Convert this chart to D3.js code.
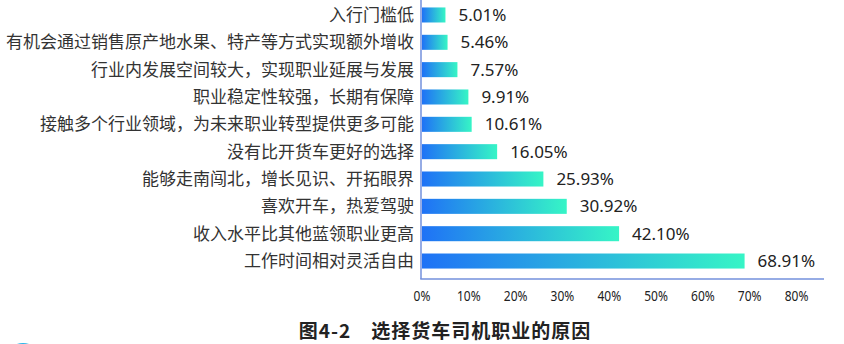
<!DOCTYPE html>
<html>
<head>
<meta charset="utf-8">
<script src="https://cdn.jsdelivr.net/npm/d3@7/dist/d3.min.js"></script>
<style>
  body { margin: 0; background: #fff; }
  #chart { width: 844px; height: 344px; }
</style>
</head>
<body>
<div id="chart"></div>
<script>
var reasons = [
  "入行门槛低",
  "有机会通过销售原产地水果、特产等方式实现额外增收",
  "行业内发展空间较大，实现职业延展与发展",
  "职业稳定性较强，长期有保障",
  "接触多个行业领域，为未来职业转型提供更多可能",
  "没有比开货车更好的选择",
  "能够走南闯北，增长见识、开拓眼界",
  "喜欢开车，热爱驾驶",
  "收入水平比其他蓝领职业更高",
  "工作时间相对灵活自由"
]
var shares = [5.01, 5.46, 7.57, 9.91, 10.61, 16.05, 25.93, 30.92, 42.10, 68.91]
var tickValues = [0, 10, 20, 30, 40, 50, 60, 70, 80]
var title = "图4-2　选择货车司机职业的原因"

var width = 844, height = 344
var plotLeft = 422, plotRight = 796.5, axisEnd = 824
var plotTop = 1.3, plotBottom = 274.7, axisY = 279

var svg = d3.select("#chart").append("svg")
    .attr("width", width)
    .attr("height", height)

var defs = svg.append("defs")
var grad = defs.append("linearGradient")
    .attr("id", "barGrad")
    .attr("x1", "0%").attr("x2", "100%")
    .attr("y1", "0%").attr("y2", "0%")
grad.append("stop").attr("offset", "0%").attr("stop-color", "#1f72f6")
grad.append("stop").attr("offset", "100%").attr("stop-color", "#36f5c6")

var x = d3.scaleLinear().domain([0, 80]).range([plotLeft, plotRight])
var y = d3.scaleBand()
    .domain(reasons)
    .range([plotTop, plotBottom])
    .paddingInner(0.45)
    .paddingOuter(0.225)

var rows = reasons.map(function(r, i) { return {name: r, value: shares[i]} })

// bars
svg.selectAll(".bar")
    .data(rows)
    .enter()
    .append("rect")
    .attr("class", "bar")
    .attr("x", x(0))
    .attr("y", function(d) { return y(d.name) })
    .attr("width", function(d) { return x(d.value) - x(0) })
    .attr("height", y.bandwidth())
    .style("fill", "url(#barGrad)")

// value labels
svg.selectAll(".val")
    .data(rows)
    .enter()
    .append("text")
    .attr("class", "val")
    .attr("x", function(d) { return x(d.value) + 13 })
    .attr("y", function(d) { return y(d.name) + y.bandwidth() / 2 })
    .attr("dy", "0.36em")
    .style("font-family", "'Noto Sans', 'Noto Sans CJK SC', sans-serif")
    .style("font-size", "17px")
    .style("fill", "#222")
    .text(function(d) { return d.value.toFixed(2) + "%" })

// category labels
svg.selectAll(".cat")
    .data(rows)
    .enter()
    .append("text")
    .attr("class", "cat")
    .attr("x", 414)
    .attr("y", function(d) { return y(d.name) + y.bandwidth() / 2 })
    .attr("dy", "0.36em")
    .attr("text-anchor", "end")
    .style("font-family", "'Noto Sans CJK SC', sans-serif")
    .style("font-size", "17px")
    .style("fill", "#333")
    .text(function(d) { return d.name })

// axis lines
svg.append("line")
    .attr("x1", 421).attr("x2", 421)
    .attr("y1", 0).attr("y2", axisY)
    .style("stroke", "#7391dd")
    .style("stroke-width", 1.5)
svg.append("line")
    .attr("x1", 420.25).attr("x2", axisEnd)
    .attr("y1", axisY).attr("y2", axisY)
    .style("stroke", "#7391dd")
    .style("stroke-width", 1.5)

// x tick labels (narrow face in the original, squeezed here)
svg.selectAll(".tick")
    .data(tickValues)
    .enter()
    .append("text")
    .attr("class", "tick")
    .attr("transform", function(d) { return "translate(" + x(d) + ",296) scale(0.8,1)" })
    .attr("dy", "0.36em")
    .attr("text-anchor", "middle")
    .style("font-family", "'Noto Sans', sans-serif")
    .style("font-size", "15px")
    .style("fill", "#222")
    .text(function(d) { return d + "%" })

// caption
svg.append("text")
    .attr("x", 445)
    .attr("y", 331)
    .attr("dy", "0.36em")
    .attr("text-anchor", "middle")
    .style("font-family", "'Noto Sans CJK SC', sans-serif")
    .style("font-weight", "bold")
    .style("font-size", "19px")
    .style("letter-spacing", "1px")
    .style("fill", "#222")
    .text(title)

// bit of decoration peeking in at the bottom-left corner
svg.append("circle")
    .attr("cx", 23)
    .attr("cy", 362)
    .attr("r", 19)
    .style("fill", "#2bb4e8")
</script>
</body>
</html>
